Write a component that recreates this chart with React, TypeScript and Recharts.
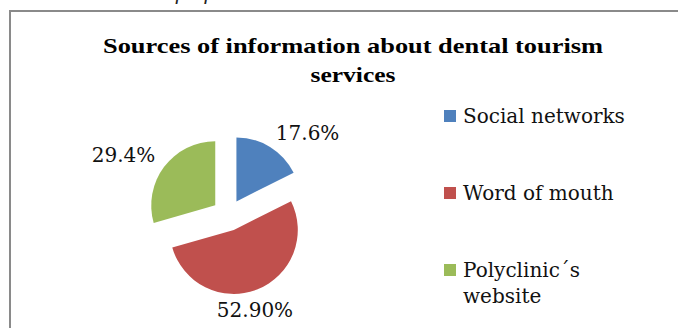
import React from 'react'
import { PieChart, Pie, Cell, Legend, Sector } from 'recharts'

const sources = ['Social networks', 'Word of mouth', 'Polyclinic´s website']
const shares = [17.6, 52.9, 29.4]
const shareLabels = ['17.6%', '52.90%', '29.4%']
const colors = ['#4F81BD', '#C0504D', '#9BBB59']

const data = sources.map((name, i) => ({ name, value: shares[i], label: shareLabels[i] }))

const RADIAN = Math.PI / 180
const EXPLODE = 16
const serif = '"DejaVu Serif", serif'

// pull every slice out of the centre along its mid angle
const ExplodedSector = (props: any) => {
  const { cx, cy, midAngle } = props
  const dx = EXPLODE * Math.cos(-midAngle * RADIAN)
  const dy = EXPLODE * Math.sin(-midAngle * RADIAN)
  return <Sector {...props} cx={cx + dx} cy={cy + dy} />
}

const renderLabel = (props: any) => {
  const { cx, cy, midAngle, outerRadius, index } = props
  const cos = Math.cos(-midAngle * RADIAN)
  const sin = Math.sin(-midAngle * RADIAN)
  const r = outerRadius + EXPLODE + 11
  const x = cx + r * cos
  const y = cy + r * sin
  const anchor = cos > 0.45 ? 'start' : cos < -0.45 ? 'end' : 'middle'
  const shift = sin > 0.5 ? 17 : 2
  return (
    <text x={x - (anchor === 'middle' ? 6 : 0)} y={y + shift} textAnchor={anchor} fill="#111" fontFamily={serif} fontSize={20}>
      {data[index].label}
    </text>
  )
}

const LegendList = () => (
  <div style={{ fontFamily: serif, fontSize: 20, lineHeight: '26px', color: '#111' }}>
    {data.map((d, i) => (
      <div key={d.name} style={{ display: 'flex', height: 77 }}>
        <div style={{ width: 12, height: 12, marginTop: 7, background: colors[i], flexShrink: 0 }} />
        <div style={{ marginLeft: 7, width: 190 }}>{d.name}</div>
      </div>
    ))}
  </div>
)

export default function App() {
  return (
    <div style={{ position: 'absolute', left: 0, top: 0, width: 678, height: 328, background: '#fff' }}>
      <PieChart width={678} height={328} margin={{ top: 0, right: 0, bottom: 0, left: 0 }}>
        <text x={90} y={-1} fontFamily='"Liberation Serif", serif' fontStyle="italic" fontSize={22} fill="#222">
          Sources of information about dental tourism services
        </text>
        <rect x={10} y={11} width={700} height={400} fill="none" stroke="#8a8a8a" strokeWidth={2} />
        <text
          x={353}
          y={53}
          textAnchor="middle"
          textLength={500}
          lengthAdjust="spacingAndGlyphs"
          fontFamily='"Liberation Serif", serif'
          fontWeight="bold"
          fontSize={22}
          fill="#000"
        >
          Sources of information about dental tourism
        </text>
        <text
          x={353}
          y={82}
          textAnchor="middle"
          textLength={85}
          lengthAdjust="spacingAndGlyphs"
          fontFamily='"Liberation Serif", serif'
          fontWeight="bold"
          fontSize={22}
          fill="#000"
        >
          services
        </text>
        <Pie
          data={data}
          dataKey="value"
          nameKey="name"
          cx={228}
          cy={215}
          outerRadius={64}
          startAngle={90}
          endAngle={-270}
          stroke="none"
          shape={ExplodedSector}
          label={renderLabel}
          labelLine={false}
          isAnimationActive={false}
        >
          {data.map((d, i) => (
            <Cell key={d.name} fill={colors[i]} />
          ))}
        </Pie>
        <Legend
          layout="vertical"
          align="right"
          verticalAlign="top"
          wrapperStyle={{ left: 444, top: 103, width: 230 }}
          content={() => <LegendList />}
        />
      </PieChart>
    </div>
  )
}
